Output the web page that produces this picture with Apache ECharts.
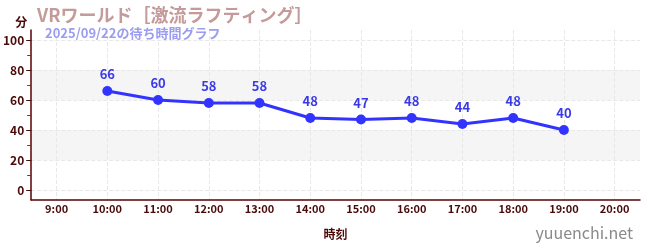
<!DOCTYPE html>
<html><head><meta charset="utf-8">
<script src="https://cdn.jsdelivr.net/npm/echarts@6/dist/echarts.min.js"></script>
<style>html,body{margin:0;padding:0;background:#fff}#c{width:650px;height:250px}</style>
</head><body><div id="c"></div>
<script>
const categories = ['9:00','10:00','11:00','12:00','13:00','14:00','15:00','16:00','17:00','18:00','19:00','20:00'];
const waitTimes = [null,66,60,58,58,48,47,48,44,48,40,null];
const yTickValues = [0,20,40,60,80,100];
const yMinorTickValues = [10,30,50,70,90];
const bands = [[20,40],[60,80]];
const titleText = 'VRワールド［激流ラフティング］';
const subtitleText = '2025/09/22の待ち時間グラフ';

const FONT = '"Noto Sans CJK JP", "Noto Sans", sans-serif';
const DARK = '#4a0a0a';
const chart = echarts.init(document.getElementById('c'), null, {renderer:'canvas'});
chart.setOption({
  animation:false,
  textStyle:{fontFamily:FONT},
  title:[
    {text:titleText, left:32, top:1, textStyle:{color:'#c49a9a', fontSize:18, fontWeight:'bold', fontFamily:FONT}},
    {text:subtitleText, left:40, top:22, textStyle:{color:'#9c9cf0', fontSize:13, fontWeight:'bold', fontFamily:FONT}},
    {text:'yuuenchi.net', right:12, top:220, textStyle:{color:'#8a8a8a', fontSize:16, fontWeight:'normal', fontFamily:FONT}}
  ],
  grid:{left:30, right:10, top:30, bottom:50},
  xAxis:{
    type:'category', data:categories, boundaryGap:true,
    name:'時刻', nameLocation:'middle', nameGap:28,
    nameTextStyle:{color:DARK, fontSize:12, fontWeight:'bold', fontFamily:FONT},
    axisLine:{onZero:false, lineStyle:{color:'#5a0000', width:1.5}},
    axisTick:{alignWithLabel:true, inside:true, length:4, lineStyle:{color:'#777'}},
    axisLabel:{color:DARK, fontSize:11, fontWeight:'bold', margin:3, fontFamily:FONT},
    splitLine:{show:true, alignWithLabel:true, lineStyle:{color:'#e8e8e8', type:'dashed'}}
  },
  yAxis:[{
    type:'value', min:-20/3, max:320/3,
    name:'分', nameLocation:'end', nameGap:0,
    nameTextStyle:{color:DARK, fontSize:12, fontWeight:'bold', align:'right', verticalAlign:'bottom', padding:[0,4,2,0], fontFamily:FONT},
    axisLine:{show:true, onZero:false, lineStyle:{color:'#5a0000', width:1.5}},
    axisTick:{show:true, length:5, customValues:yTickValues, lineStyle:{color:DARK}},
    axisLabel:{color:DARK, fontSize:12, fontWeight:'bold', margin:7, customValues:yTickValues, fontFamily:FONT},
    splitLine:{show:true, lineStyle:{color:'#e8e8e8', type:'dashed'}}
  },{
    type:'value', min:-20/3, max:320/3, position:'left',
    axisLine:{show:false, onZero:false},
    axisTick:{show:true, length:4, customValues:yMinorTickValues, lineStyle:{color:'#e00000'}},
    axisLabel:{show:false},
    splitLine:{show:false}
  }],
  series:[{
    type:'line', data:waitTimes, yAxisIndex:0,
    symbol:'circle', symbolSize:10,
    lineStyle:{color:'#3333ff', width:3},
    itemStyle:{color:'#3333ff'},
    label:{show:true, position:'top', color:'#3a3ae8', fontSize:13, fontWeight:'bold', distance:5, fontFamily:FONT},
    markArea:{silent:true, itemStyle:{color:'#f5f5f5'}, z:-1,
      data:bands.map(b=>[{yAxis:b[0]},{yAxis:b[1]}])}
  }]
});
</script></body></html>
